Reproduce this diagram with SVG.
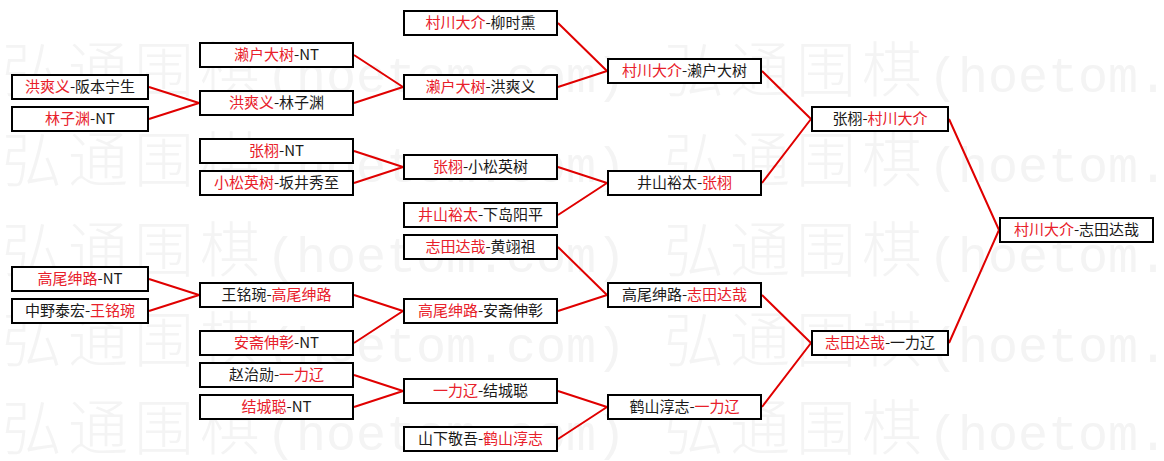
<svg xmlns="http://www.w3.org/2000/svg" width="1164" height="461" viewBox="0 0 1164 461">
<style>
.bg{fill:#ffffff}
.wm{font-family:"Noto Sans CJK SC","Noto Sans",sans-serif;font-size:60px;font-weight:300;fill:#f4f4f4}
.wml{font-family:"Liberation Mono",monospace;font-size:50px;fill:#f4f4f4}
.box{fill:#ffffff;stroke:#000000;stroke-width:2}
.t{font-family:"Noto Sans CJK SC","Noto Sans",sans-serif;font-size:15px;fill:#1a1a1a;text-anchor:middle}
.r{fill:#e8202a}
.ln{stroke:#e00000;stroke-width:2;fill:none}
</style>
<rect class="bg" x="0" y="0" width="1164" height="461"/>
<g id="watermark">
<text class="wm" x="2 68 134 200" y="92">弘通围棋</text><text class="wml" x="266" y="92">(hoetom.com)</text>
<text class="wm" x="664 730 796 862" y="92">弘通围棋</text><text class="wml" x="928" y="92">(hoetom.</text>
<text class="wm" x="2 68 134 200" y="182">弘通围棋</text><text class="wml" x="266" y="182">(hoetom.com)</text>
<text class="wm" x="664 730 796 862" y="182">弘通围棋</text><text class="wml" x="928" y="182">(hoetom.</text>
<text class="wm" x="2 68 134 200" y="272">弘通围棋</text><text class="wml" x="266" y="272">(hoetom.com)</text>
<text class="wm" x="664 730 796 862" y="272">弘通围棋</text><text class="wml" x="928" y="272">(hoetom.</text>
<text class="wm" x="2 68 134 200" y="362">弘通围棋</text><text class="wml" x="266" y="362">(hoetom.com)</text>
<text class="wm" x="664 730 796 862" y="362">弘通围棋</text><text class="wml" x="928" y="362">(hoetom.</text>
<text class="wm" x="2 68 134 200" y="450">弘通围棋</text><text class="wml" x="266" y="450">(hoetom.com)</text>
<text class="wm" x="664 730 796 862" y="450">弘通围棋</text><text class="wml" x="928" y="450">(hoetom.</text>
</g>
<g id="connectors">
<path class="ln" d="M149 87L199 103M149 119L199 103M149 279L199 295M149 311L199 295"/>
<path class="ln" d="M354 55L403 87M354 103L403 87M354 151L403 167M354 183L403 167M354 295L403 311M354 343L403 311M354 375L403 391M354 407L403 391"/>
<path class="ln" d="M558 23L607 71M558 87L607 71M558 167L607 183M558 215L607 183M558 247L607 295M558 311L607 295M558 391L607 407M558 439L607 407"/>
<path class="ln" d="M762 71L811 119M762 183L811 119M762 295L811 343M762 407L811 343"/>
<path class="ln" d="M949 119L999 230M949 343L999 230"/>
</g>
<g id="n1a"><rect class="box" x="12" y="75" width="136" height="24"/><text class="t" x="80" y="92"><tspan class="r">洪爽义</tspan>-阪本宁生</text></g>
<g id="n1b"><rect class="box" x="12" y="107" width="136" height="24"/><text class="t" x="80" y="124"><tspan class="r">林子渊</tspan>-NT</text></g>
<g id="n1c"><rect class="box" x="12" y="267" width="136" height="24"/><text class="t" x="80" y="284"><tspan class="r">高尾绅路</tspan>-NT</text></g>
<g id="n1d"><rect class="box" x="12" y="299" width="136" height="24"/><text class="t" x="80" y="316">中野泰宏-<tspan class="r">王铭琬</tspan></text></g>

<g id="n2a"><rect class="box" x="200" y="43" width="153" height="24"/><text class="t" x="276.5" y="60"><tspan class="r">濑户大树</tspan>-NT</text></g>
<g id="n2b"><rect class="box" x="200" y="91" width="153" height="24"/><text class="t" x="276.5" y="108"><tspan class="r">洪爽义</tspan>-林子渊</text></g>
<g id="n2c"><rect class="box" x="200" y="139" width="153" height="24"/><text class="t" x="276.5" y="156"><tspan class="r">张栩</tspan>-NT</text></g>
<g id="n2d"><rect class="box" x="200" y="171" width="153" height="24"/><text class="t" x="276.5" y="188"><tspan class="r">小松英树</tspan>-坂井秀至</text></g>
<g id="n2e"><rect class="box" x="200" y="283" width="153" height="24"/><text class="t" x="276.5" y="300">王铭琬-<tspan class="r">高尾绅路</tspan></text></g>
<g id="n2f"><rect class="box" x="200" y="331" width="153" height="24"/><text class="t" x="276.5" y="348"><tspan class="r">安斋伸彰</tspan>-NT</text></g>
<g id="n2g"><rect class="box" x="200" y="363" width="153" height="24"/><text class="t" x="276.5" y="380">赵治勋-<tspan class="r">一力辽</tspan></text></g>
<g id="n2h"><rect class="box" x="200" y="395" width="153" height="24"/><text class="t" x="276.5" y="412"><tspan class="r">结城聪</tspan>-NT</text></g>

<g id="n3a"><rect class="box" x="404" y="11" width="153" height="24"/><text class="t" x="480.5" y="28"><tspan class="r">村川大介</tspan>-柳时熏</text></g>
<g id="n3b"><rect class="box" x="404" y="75" width="153" height="24"/><text class="t" x="480.5" y="92"><tspan class="r">濑户大树</tspan>-洪爽义</text></g>
<g id="n3c"><rect class="box" x="404" y="155" width="153" height="24"/><text class="t" x="480.5" y="172"><tspan class="r">张栩</tspan>-小松英树</text></g>
<g id="n3d"><rect class="box" x="404" y="203" width="153" height="24"/><text class="t" x="480.5" y="220"><tspan class="r">井山裕太</tspan>-下岛阳平</text></g>
<g id="n3e"><rect class="box" x="404" y="235" width="153" height="24"/><text class="t" x="480.5" y="252"><tspan class="r">志田达哉</tspan>-黄翊祖</text></g>
<g id="n3f"><rect class="box" x="404" y="299" width="153" height="24"/><text class="t" x="480.5" y="316"><tspan class="r">高尾绅路</tspan>-安斋伸彰</text></g>
<g id="n3g"><rect class="box" x="404" y="379" width="153" height="24"/><text class="t" x="480.5" y="396"><tspan class="r">一力辽</tspan>-结城聪</text></g>
<g id="n3h"><rect class="box" x="404" y="427" width="153" height="24"/><text class="t" x="480.5" y="444">山下敬吾-<tspan class="r">鹤山淳志</tspan></text></g>

<g id="n4a"><rect class="box" x="608" y="59" width="153" height="24"/><text class="t" x="684.5" y="76"><tspan class="r">村川大介</tspan>-濑户大树</text></g>
<g id="n4b"><rect class="box" x="608" y="171" width="153" height="24"/><text class="t" x="684.5" y="188">井山裕太-<tspan class="r">张栩</tspan></text></g>
<g id="n4c"><rect class="box" x="608" y="283" width="153" height="24"/><text class="t" x="684.5" y="300">高尾绅路-<tspan class="r">志田达哉</tspan></text></g>
<g id="n4d"><rect class="box" x="608" y="395" width="153" height="24"/><text class="t" x="684.5" y="412">鹤山淳志-<tspan class="r">一力辽</tspan></text></g>

<g id="n5a"><rect class="box" x="812" y="107" width="136" height="24"/><text class="t" x="880" y="124">张栩-<tspan class="r">村川大介</tspan></text></g>
<g id="n5b"><rect class="box" x="812" y="331" width="136" height="24"/><text class="t" x="880" y="348"><tspan class="r">志田达哉</tspan>-一力辽</text></g>

<g id="n6"><rect class="box" x="1000" y="218" width="153" height="24"/><text class="t" x="1076.5" y="235"><tspan class="r">村川大介</tspan>-志田达哉</text></g>
</svg>
